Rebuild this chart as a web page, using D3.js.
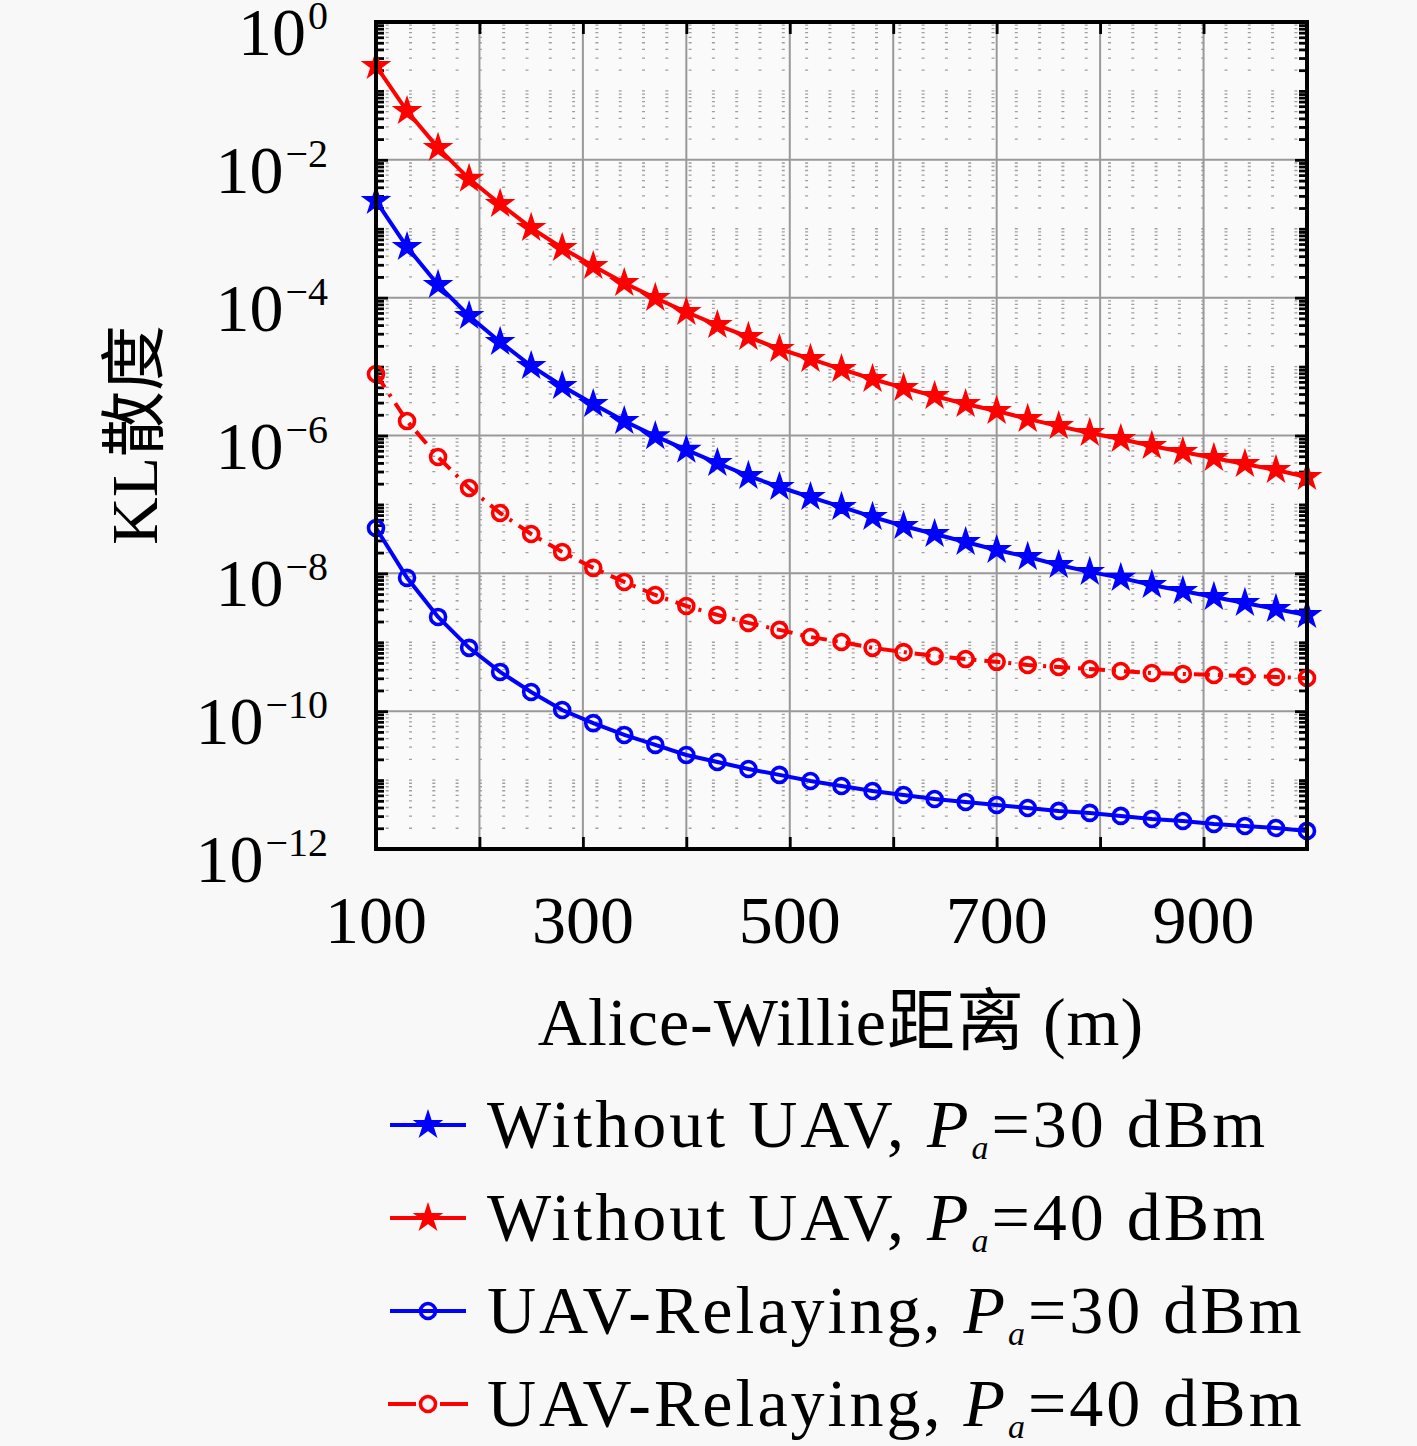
<!DOCTYPE html>
<html><head><meta charset="utf-8">
<script src="https://cdn.jsdelivr.net/npm/d3@7"></script>
<style>
html,body{margin:0;padding:0;background:#f8f8f8;}
text{font-family:"Liberation Serif","Noto Sans CJK SC",serif;fill:#000;}
</style></head>
<body>
<svg id="chart" width="1417" height="1446"></svg>
<script>
const distances = [100,130,160,190,220,250,280,310,340,370,400,430,460,490,520,550,580,610,640,670,700,730,760,790,820,850,880,910,940,970,1000];
const noUav30 = [2.53e-3,5.43e-4,1.53e-4,5.42e-5,2.28e-5,1.02e-5,5.23e-6,2.86e-6,1.62e-6,9.8e-7,6.2e-7,3.99e-7,2.59e-7,1.79e-7,1.28e-7,9.2e-8,6.6e-8,4.87e-8,3.72e-8,2.85e-8,2.18e-8,1.73e-8,1.32e-8,1.05e-8,8.6e-9,6.78e-9,5.55e-9,4.54e-9,3.72e-9,3.04e-9,2.49e-9];
const noUav40 = [0.23,5.1e-2,1.49e-2,5.3e-3,2.29e-3,1.03e-3,5.26e-4,2.88e-4,1.63e-4,9.9e-5,6.2e-5,4.0e-5,2.69e-5,1.80e-5,1.29e-5,9.2e-6,6.6e-6,4.9e-6,3.74e-6,2.86e-6,2.27e-6,1.74e-6,1.37e-6,1.09e-6,8.9e-7,7.05e-7,5.77e-7,4.72e-7,3.86e-7,3.16e-7,2.50e-7];
const relay30 = [4.55e-8,8.6e-9,2.33e-9,8.3e-10,3.71e-10,1.90e-10,1.04e-10,6.7e-11,4.52e-11,3.24e-11,2.31e-11,1.83e-11,1.45e-11,1.19e-11,9.7e-12,8.2e-12,6.95e-12,6.08e-12,5.32e-12,4.82e-12,4.36e-12,3.94e-12,3.57e-12,3.34e-12,3.02e-12,2.73e-12,2.55e-12,2.31e-12,2.16e-12,2.02e-12,1.83e-12];
const relay40 = [7.8e-6,1.62e-6,4.88e-7,1.73e-7,7.5e-8,3.72e-8,2.04e-8,1.20e-8,7.5e-9,4.85e-9,3.36e-9,2.49e-9,1.91e-9,1.51e-9,1.19e-9,1.01e-9,8.3e-10,7.2e-10,6.3e-10,5.7e-10,5.2e-10,4.68e-10,4.38e-10,4.09e-10,3.83e-10,3.58e-10,3.47e-10,3.35e-10,3.24e-10,3.13e-10,3.03e-10];
const xTicks = [100,200,300,400,500,600,700,800,900,1000];
const xTickLabels = ["100","","300","","500","","700","","900",""];
const yTickExps = [0,-2,-4,-6,-8,-10,-12];
const seriesNames = ["Without UAV, ","Without UAV, ","UAV-Relaying, ","UAV-Relaying, "];
const seriesPower = ["=30 dBm","=40 dBm","=30 dBm","=40 dBm"];
const yLabel = "KL散度";
const xLabel = "Alice-Willie距离 (m)";

const series = [
  {values: noUav30, color:"#0000ff", marker:"star", dash:null},
  {values: noUav40, color:"#ff0000", marker:"star", dash:null},
  {values: relay30, color:"#0000ff", marker:"circle", dash:null},
  {values: relay40, color:"#ff0000", marker:"circle", dash:"16,8,3,8"}
];

const svg = d3.select("#chart");
const L=376, R=1307, T=22, B=849;
const x = d3.scaleLinear().domain([100,1000]).range([L,R]);
const y = d3.scaleLog().domain([1e-12,1]).range([B,T]);

svg.append("rect").attr("x",L).attr("y",T).attr("width",R-L).attr("height",B-T).attr("fill","#fafafa");

const g = svg.append("g");
const minorVals = [];
for (let e=-12; e<0; e++) for (let m=2; m<=9; m++) minorVals.push(m*Math.pow(10,e));
const oddDecades = [];
for (let e=-11; e<0; e+=2) oddDecades.push(Math.pow(10,e));
g.selectAll(".minorgrid").data(minorVals.concat(oddDecades)).join("line")
  .attr("x1",L).attr("x2",R).attr("y1",d=>y(d)).attr("y2",d=>y(d))
  .attr("stroke","#a0a0a0").attr("stroke-width",1.3)
  .attr("stroke-dasharray","3,20.3").attr("stroke-dashoffset",13.6);
g.selectAll(".vgrid").data(xTicks).join("line")
  .attr("x1",d=>x(d)).attr("x2",d=>x(d)).attr("y1",T).attr("y2",B)
  .attr("stroke","#999").attr("stroke-width",2);
g.selectAll(".hgrid").data(yTickExps.map(e=>Math.pow(10,e))).join("line")
  .attr("x1",L).attr("x2",R).attr("y1",d=>y(d)).attr("y2",d=>y(d))
  .attr("stroke","#999").attr("stroke-width",2);

const axisG = svg.append("g");
const yMajor = yTickExps.map(e=>Math.pow(10,e));
const yMinorAll = minorVals.concat(oddDecades);
function styleAxis(sel){ sel.select(".domain").remove(); sel.selectAll("line").attr("stroke","#000").attr("stroke-width",2.8); sel.selectAll("text").remove(); }
axisG.append("g").attr("transform",`translate(${L},0)`).call(d3.axisRight(y).tickValues(yMajor).tickSize(12)).call(styleAxis);
axisG.append("g").attr("transform",`translate(${L},0)`).call(d3.axisRight(y).tickValues(yMinorAll).tickSize(8)).call(styleAxis);
axisG.append("g").attr("transform",`translate(${R},0)`).call(d3.axisLeft(y).tickValues(yMajor).tickSize(12)).call(styleAxis);
axisG.append("g").attr("transform",`translate(${R},0)`).call(d3.axisLeft(y).tickValues(yMinorAll).tickSize(8)).call(styleAxis);
axisG.append("g").attr("transform",`translate(0,${B})`).call(d3.axisTop(x).tickValues(xTicks).tickSize(12)).call(styleAxis);
axisG.append("g").attr("transform",`translate(0,${T})`).call(d3.axisBottom(x).tickValues(xTicks).tickSize(12)).call(styleAxis);

const line = d3.line().x((d,i)=>x(distances[i])).y(d=>y(d));
const star = d3.symbol().type(d3.symbolStar).size(210);
series.forEach(s=>{
  svg.append("path").attr("d",line(s.values)).attr("fill","none").attr("stroke",s.color)
    .attr("stroke-width",4).attr("stroke-dasharray",s.dash);
  const mg = svg.append("g");
  if (s.marker==="star"){
    mg.selectAll("path").data(s.values).join("path")
      .attr("transform",(d,i)=>`translate(${x(distances[i])},${y(d)})`)
      .attr("d",star).attr("fill",s.color).attr("stroke",s.color).attr("stroke-width",1.5);
  } else {
    mg.selectAll("circle").data(s.values).join("circle")
      .attr("cx",(d,i)=>x(distances[i])).attr("cy",d=>y(d)).attr("r",7.5)
      .attr("fill","none").attr("stroke",s.color).attr("stroke-width",3.6);
  }
});

svg.append("rect").attr("x",L).attr("y",T).attr("width",R-L).attr("height",B-T)
  .attr("fill","none").attr("stroke","#000").attr("stroke-width",4);

svg.selectAll(".xtl").data(xTicks.filter((d,i)=>xTickLabels[i])).join("text")
  .attr("x",d=>x(d)).attr("y",943).attr("text-anchor","middle").attr("font-size",68)
  .text(d=>xTickLabels[xTicks.indexOf(d)]);
yTickExps.forEach(e=>{
  const ty = y(Math.pow(10,e));
  const t = svg.append("text").attr("x",328).attr("y",ty+33).attr("text-anchor","end").attr("font-size",68);
  t.append("tspan").text("10");
  t.append("tspan").attr("font-size",40).attr("dy",-26).attr("dx",2).text(e===0?"0":"\u2212"+(-e));
});

svg.append("text").attr("transform","translate(157,435) rotate(-90)").attr("text-anchor","middle")
  .attr("font-size",66).text(yLabel);
svg.append("text").attr("x",841).attr("y",1045).attr("text-anchor","middle").attr("font-size",68)
  .attr("letter-spacing",1).text(xLabel);

const legY = [1125,1218,1311,1404];
series.forEach((s,i)=>{
  const ly = legY[i];
  const lg = svg.append("g");
  if (s.dash){
    lg.append("line").attr("x1",388).attr("x2",416).attr("y1",ly).attr("y2",ly).attr("stroke",s.color).attr("stroke-width",4);
    lg.append("line").attr("x1",440).attr("x2",468).attr("y1",ly).attr("y2",ly).attr("stroke",s.color).attr("stroke-width",4);
  } else {
    lg.append("line").attr("x1",390).attr("x2",466).attr("y1",ly).attr("y2",ly).attr("stroke",s.color).attr("stroke-width",4);
  }
  if (s.marker==="star") lg.append("path").attr("transform",`translate(428,${ly})`).attr("d",star).attr("fill",s.color).attr("stroke",s.color).attr("stroke-width",1.5);
  else lg.append("circle").attr("cx",428).attr("cy",ly).attr("r",7.5).attr("fill","none").attr("stroke",s.color).attr("stroke-width",3.6);
  const t = lg.append("text").attr("x",487).attr("y",ly+22).attr("font-size",68).attr("letter-spacing",3);
  t.append("tspan").text(seriesNames[i]);
  t.append("tspan").attr("font-style","italic").text("P");
  t.append("tspan").attr("font-style","italic").attr("font-size",34).attr("dy",12).text("a");
  t.append("tspan").attr("dy",-12).text(seriesPower[i]);
});
</script>
</body></html>
